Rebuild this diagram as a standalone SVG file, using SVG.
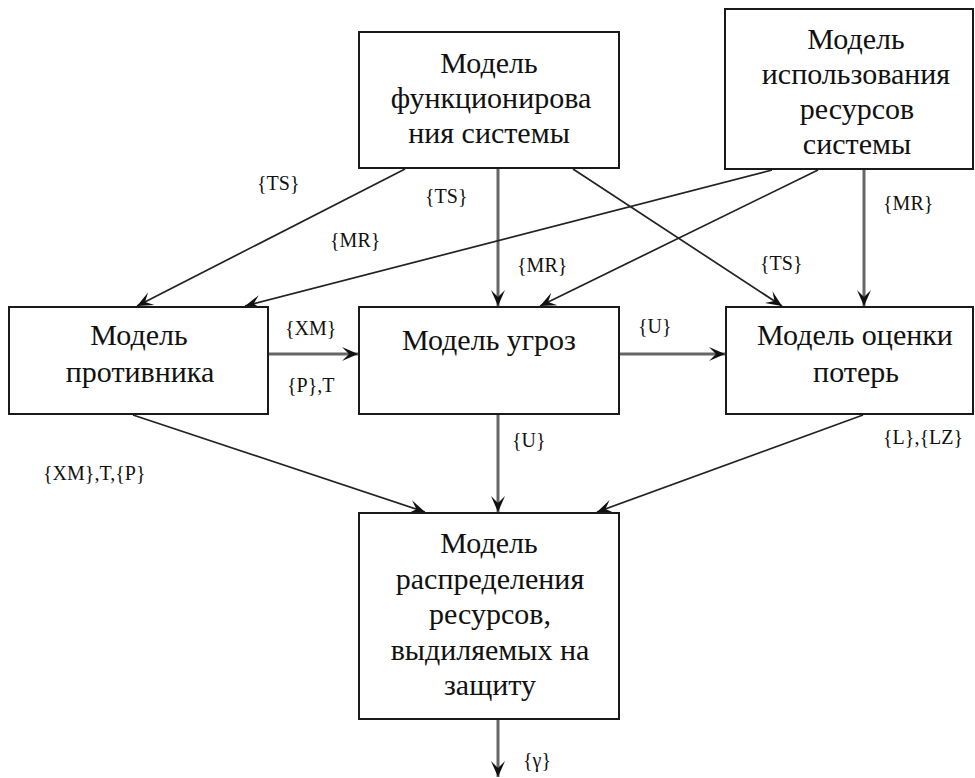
<svg xmlns="http://www.w3.org/2000/svg" width="975" height="778" viewBox="0 0 975 778">
<style>
.box{fill:#fff;stroke:#1a1a1a;stroke-width:2}
.t{font-family:'Liberation Serif','Times New Roman',serif;font-size:30px;fill:#111;text-anchor:middle}
.l{font-family:'Liberation Serif','Times New Roman',serif;font-size:20px;fill:#111}
.d{fill:none;stroke:#222;stroke-width:1.7;marker-end:url(#ah)}
.s{fill:none;stroke:#666;stroke-width:3;marker-end:url(#ah)}
</style>
<defs>
<marker id="ah" markerUnits="userSpaceOnUse" markerWidth="20" markerHeight="16" viewBox="-17 -8 18 16" refX="0" refY="0" orient="auto">
<path d="M0,0 L-16,-7 L-9,0 L-16,7 Z" fill="#111"/>
</marker>
</defs>
<rect width="975" height="778" fill="#fff"/>
<g id="connectors">
<line class="d" x1="405" y1="169" x2="137" y2="306"/>
<line class="s" x1="498" y1="169" x2="498" y2="306"/>
<line class="d" x1="573" y1="169" x2="782" y2="306"/>
<line class="d" x1="772" y1="170" x2="245" y2="306"/>
<line class="d" x1="818" y1="170" x2="540" y2="306"/>
<line class="s" x1="864" y1="170" x2="864" y2="306"/>
<line class="s" x1="268" y1="354" x2="358" y2="354"/>
<line class="s" x1="620" y1="354" x2="725" y2="354"/>
<line class="d" x1="133" y1="415" x2="425" y2="512"/>
<line class="s" x1="498" y1="415" x2="498" y2="512"/>
<line class="d" x1="863" y1="415" x2="597" y2="512"/>
<line class="s" x1="498" y1="720" x2="498" y2="777"/>
<g id="labels">
<text class="l" x="257" y="190">{TS}</text>
<text class="l" x="425" y="203">{TS}</text>
<text class="l" x="330" y="247">{MR}</text>
<text class="l" x="517" y="272">{MR}</text>
<text class="l" x="760" y="270">{TS}</text>
<text class="l" x="883" y="210">{MR}</text>
<text class="l" x="285" y="335">{XM}</text>
<text class="l" x="287" y="392">{P},T</text>
<text class="l" x="638" y="333">{U}</text>
<text class="l" x="43" y="480">{XM},T,{P}</text>
<text class="l" x="512" y="447">{U}</text>
<text class="l" x="883" y="444">{L},{LZ}</text>
<text class="l" x="523" y="767">{γ}</text>
</g>
</g>
<g id="n1">
<rect class="box" x="359" y="32" width="260" height="136"/>
<text class="t" x="489" y="73">Модель</text>
<text class="t" x="491" y="108">функционирова</text>
<text class="t" x="489" y="143">ния системы</text>
</g>
<g id="n2">
<rect class="box" x="725" y="9" width="248" height="160"/>
<text class="t" x="856" y="49">Модель</text>
<text class="t" x="856" y="84">использования</text>
<text class="t" x="857" y="119">ресурсов</text>
<text class="t" x="857" y="154">системы</text>
</g>
<g id="n3">
<rect class="box" x="9" y="307" width="259" height="107"/>
<text class="t" x="139" y="345">Модель</text>
<text class="t" x="140" y="382">противника</text>
</g>
<g id="n4">
<rect class="box" x="359" y="307" width="260" height="107"/>
<text class="t" x="489" y="350">Модель угроз</text>
</g>
<g id="n5">
<rect class="box" x="726" y="307" width="247" height="107"/>
<text class="t" x="855" y="345">Модель оценки</text>
<text class="t" x="856" y="382">потерь</text>
</g>
<g id="n6">
<rect class="box" x="359" y="513" width="260" height="206"/>
<text class="t" x="489" y="553">Модель</text>
<text class="t" x="490" y="589">распределения</text>
<text class="t" x="490" y="624">ресурсов,</text>
<text class="t" x="490" y="660">выдиляемых на</text>
<text class="t" x="490" y="695">защиту</text>
</g>
</svg>
